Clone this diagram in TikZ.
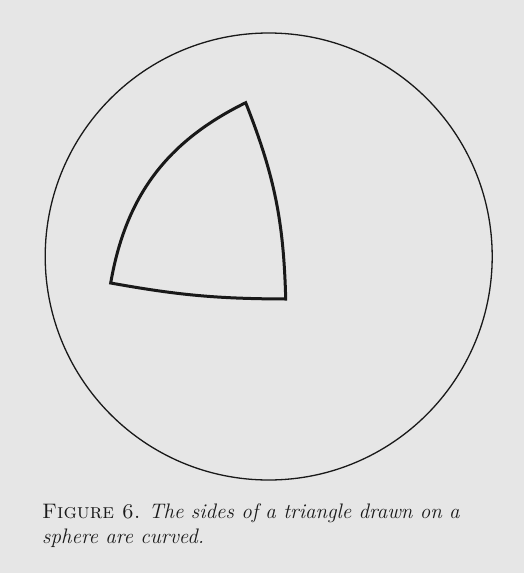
\documentclass[tikz,border=0pt]{standalone}
\usepackage{fontspec}
\usepackage{tikz}

\definecolor{paper}{RGB}{230,230,230}
\definecolor{ink}{RGB}{25,25,25}

\begin{document}
\begin{tikzpicture}[x=1pt, y=-1pt, >=stealth,
    sphere/.style={draw=ink, line width=1.3pt},
    sidecurve/.style={draw=ink, line width=3pt},
    caption/.style={anchor=base west, inner sep=0pt, text=ink, font=\fontsize{21}{25}\selectfont\addfontfeatures{FakeBold=0.6}}]
	% ---------- 背景 ----------
	\fill[paper] (0,0) rectangle (524,573);
	\useasboundingbox (0,0) rectangle (524,573);
	
	% 球面（外圆）
	\draw[sphere] (268.7,256.5) circle (223.5);
	
	% 球面三角形的三个顶点
	\coordinate (A) at (110.7,283);
	\coordinate (B) at (245.7,102.7);
	\coordinate (C) at (285.7,299);
	
	% 弯曲的三条边
	\draw[sidecurve] (A) to[bend left=27] (B) to[bend left=10] (C) to[bend left=5] (A) -- cycle;
	
	% 图注
	\node[caption] (cap1) at (42,518) {\textsc{Figure 6.} \textit{The sides of a triangle drawn on a}};
	\node[caption] (cap2) at (42,543) {\textit{sphere are curved.}};
\end{tikzpicture}
\end{document}
